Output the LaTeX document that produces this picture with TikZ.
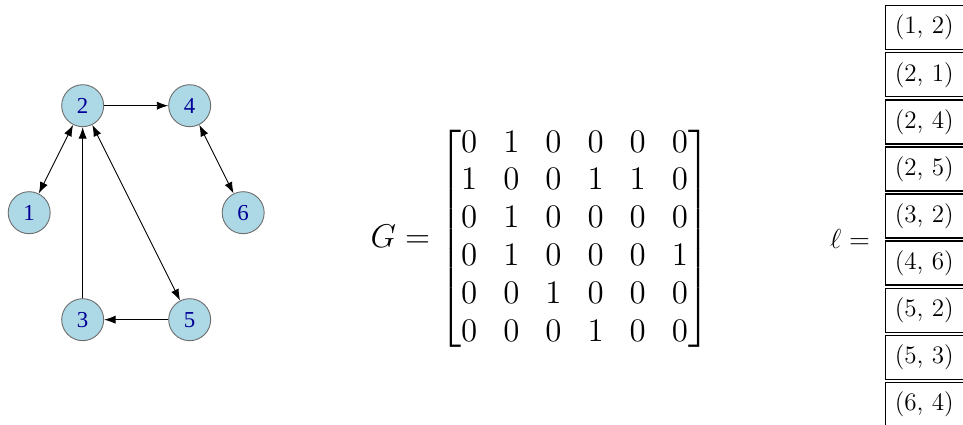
\documentclass[tikz,border=0pt]{standalone}
\usepackage{amsmath}
\usepackage{fontspec}
\usetikzlibrary{arrows.meta, positioning}
\newfontfamily\vertexfont{Liberation Serif}
\definecolor{vertexfill}{RGB}{173, 216, 230}
\definecolor{vertexline}{RGB}{110, 110, 110}
\definecolor{vertextext}{RGB}{0, 0, 150}

\begin{document}
\begin{tikzpicture}[
        node distance=1.646cm, on grid,
        vertex/.style={circle, draw=vertexline, fill=vertexfill, minimum size=0.646cm, inner sep=0pt, text=vertextext, font=\vertexfont\fontsize{10}{12}\selectfont},
        edgeto/.style={-{Latex[length=5pt, width=3.6pt]}},
        edgeboth/.style={{Latex[length=5pt, width=3.6pt]}-{Latex[length=5pt, width=3.6pt]}},
        pairbox/.style={draw, line width=0.6pt, anchor=north west, text width=2cm, minimum height=0.677cm, inner xsep=4pt, align=left, font=\fontsize{11}{13}\selectfont}
    ]
        \useasboundingbox (0,0) rectangle (14.815,6.538);
        \clip (0,0) rectangle (14.815,6.538);

        % graph
        \node[vertex] (n2) at (1.272,4.912) {2};
        \node[vertex, right=of n2] (n4) {4};
        \node[vertex, below left=1.646cm and 0.823cm of n2] (n1) {1};
        \node[vertex, below right=1.646cm and 0.823cm of n4] (n6) {6};
        \node[vertex, below=3.292cm of n2] (n3) {3};
        \node[vertex, below=3.292cm of n4] (n5) {5};

        \draw[edgeto] (n2) -- (n4);
        \draw[edgeboth] (n1) -- (n2);
        \draw[edgeto] (n3) -- (n2);
        \draw[edgeboth] (n2) -- (n5);
        \draw[edgeto] (n5) -- (n3);
        \draw[edgeboth] (n4) -- (n6);

        % adjacency matrix
        \node[inner sep=0pt, anchor=east, font=\Large] (adj) at (10.93,2.86) {$G = \renewcommand{\arraystretch}{0.92}\setlength{\arraycolsep}{5.7pt}\begin{bmatrix}
            0 & 1 & 0 & 0 & 0 & 0\\
            1 & 0 & 0 & 1 & 1 & 0\\
            0 & 1 & 0 & 0 & 0 & 0\\
            0 & 1 & 0 & 0 & 0 & 1\\
            0 & 0 & 1 & 0 & 0 & 0\\
            0 & 0 & 0 & 1 & 0 & 0
        \end{bmatrix}$};

        % edge list
        \node[font=\fontsize{13}{15}\selectfont] (ell) at (13.077,2.865) {$\ell =$};
        \foreach \e [count=\i] in {{(1, 2)}, {(2, 1)}, {(2, 4)}, {(2, 5)}, {(3, 2)}, {(4, 6)}, {(5, 2)}, {(5, 3)}, {(6, 4)}}
            \node[pairbox] (e\i) at (13.615,{6.4615-(\i-1)*0.7246}) {\e};
    \end{tikzpicture}
\end{document}
